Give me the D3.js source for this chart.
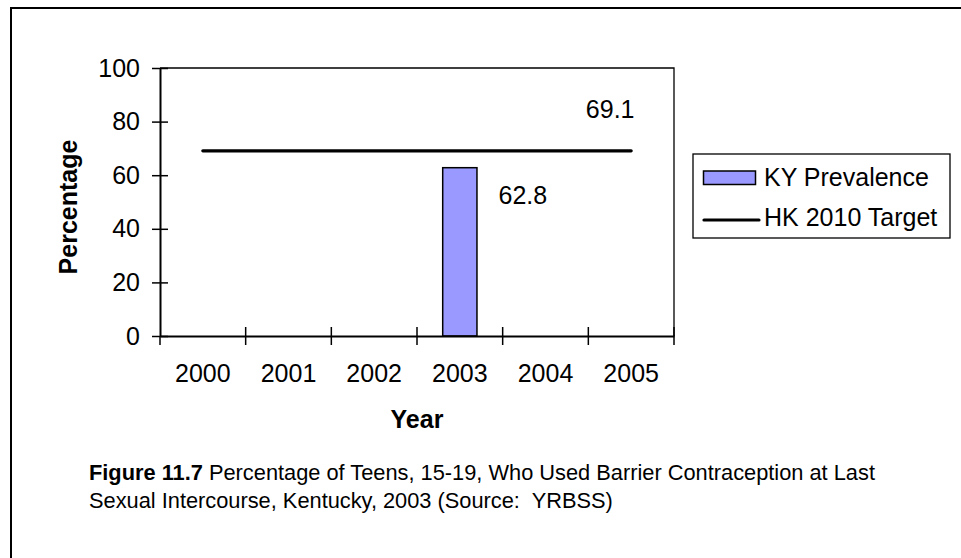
<!DOCTYPE html>
<html>
<head>
<meta charset="utf-8">
<script src="https://cdn.jsdelivr.net/npm/d3@7/dist/d3.min.js"></script>
<style>
  html, body { margin: 0; padding: 0; background: #fff; }
  svg { display: block; font-family: Arial, "Liberation Sans", sans-serif; }
</style>
</head>
<body>
<svg id="chart" width="961" height="558"></svg>
<script>
const years = ["2000", "2001", "2002", "2003", "2004", "2005"];
const kyPrevalence = [null, null, null, 62.8, null, null];
const hkTarget = [69.1, 69.1, 69.1, 69.1, 69.1, 69.1];
const yTicks = [0, 20, 40, 60, 80, 100];
const seriesNames = ["KY Prevalence", "HK 2010 Target"];

const svg = d3.select("#chart");
const W = 961, H = 558;
const plot = { left: 160, right: 674, top: 68, bottom: 336 };

// outer frame (left and top edges visible)
svg.append("path")
  .attr("d", `M11,${H} L11,8 L${W},8`)
  .attr("fill", "none").attr("stroke", "#000").attr("stroke-width", 2);

const x = d3.scaleBand().domain(years).range([plot.left, plot.right])
  .paddingInner(0.6).paddingOuter(0.3);
const xStep = d3.scaleLinear().domain([0, years.length]).range([plot.left, plot.right]);
const y = d3.scaleLinear().domain([0, 100]).range([plot.bottom, plot.top]);

// plot frame top and right
svg.append("path")
  .attr("d", `M${plot.left},${plot.top} L${plot.right},${plot.top} L${plot.right},${plot.bottom}`)
  .attr("fill", "none").attr("stroke", "#000").attr("stroke-width", 1.3);

// bars
const barData = years.map((yr, i) => ({ yr, v: kyPrevalence[i] })).filter(d => d.v != null);
svg.append("g").selectAll("rect").data(barData).join("rect")
  .attr("x", d => x(d.yr))
  .attr("y", d => y(d.v))
  .attr("width", x.bandwidth())
  .attr("height", d => y(0) - y(d.v))
  .attr("fill", "#9999FF").attr("stroke", "#000").attr("stroke-width", 1.5);

// target line
const lineData = years.map((yr, i) => ({ yr, v: hkTarget[i] }));
svg.append("path").datum(lineData)
  .attr("d", d3.line().x(d => x(d.yr) + x.bandwidth() / 2).y(d => y(d.v)))
  .attr("fill", "none").attr("stroke", "#000").attr("stroke-width", 3.2)
  .attr("stroke-linecap", "round");

// y axis
const yAxis = svg.append("g").attr("transform", `translate(${plot.left},0)`)
  .call(d3.axisLeft(y).tickValues(yTicks).tickSize(8).tickPadding(12).tickSizeOuter(0));
yAxis.select(".domain").attr("stroke-width", 2);
yAxis.selectAll(".tick line").attr("x1", 8).attr("stroke-width", 1.5);
yAxis.selectAll(".tick text").attr("font-size", 25).attr("fill", "#000")
  .style("font-family", 'Arial, "Liberation Sans", sans-serif');

// x axis
const xAxis = svg.append("g").attr("transform", `translate(0,${plot.bottom})`)
  .call(d3.axisBottom(x).tickSize(0).tickPadding(28).tickSizeOuter(0));
xAxis.select(".domain").attr("stroke-width", 2);
xAxis.selectAll(".tick text").attr("font-size", 25).attr("fill", "#000")
  .style("font-family", 'Arial, "Liberation Sans", sans-serif');
xAxis.selectAll(".bound").data(d3.range(years.length + 1)).join("line")
  .attr("class", "bound")
  .attr("x1", d => xStep(d)).attr("x2", d => xStep(d))
  .attr("y1", d => (d === 0 ? 0 : -9)).attr("y2", 9)
  .attr("stroke", "#000").attr("stroke-width", 1.5);

// data labels
svg.append("g").selectAll("text").data(barData).join("text")
  .attr("x", d => x(d.yr) + x.bandwidth() / 2 + 63)
  .attr("y", d => y(d.v) + 36)
  .attr("text-anchor", "middle").attr("font-size", 25)
  .text(d => d.v.toFixed(1));
const last = lineData[lineData.length - 1];
svg.append("text")
  .attr("x", x(last.yr) + x.bandwidth() / 2 - 21)
  .attr("y", y(last.v) - 33)
  .attr("text-anchor", "middle").attr("font-size", 25)
  .text(last.v.toFixed(1));

// axis titles
svg.append("text")
  .attr("x", (plot.left + plot.right) / 2).attr("y", 428)
  .attr("text-anchor", "middle").attr("font-size", 25).attr("font-weight", "bold")
  .text("Year");
svg.append("text")
  .attr("transform", "translate(77,207) rotate(-90)")
  .attr("text-anchor", "middle").attr("font-size", 25).attr("font-weight", "bold")
  .text("Percentage");

// legend
const lg = svg.append("g");
lg.append("rect").attr("x", 693).attr("y", 154).attr("width", 257).attr("height", 84)
  .attr("fill", "#fff").attr("stroke", "#000").attr("stroke-width", 1.3);
lg.append("rect").attr("x", 703.5).attr("y", 171).attr("width", 52).attr("height", 13.5)
  .attr("fill", "#9999FF").attr("stroke", "#000").attr("stroke-width", 1.5);
lg.append("line").attr("x1", 704).attr("x2", 759).attr("y1", 220).attr("y2", 220)
  .attr("stroke", "#000").attr("stroke-width", 3.2).attr("stroke-linecap", "round");
lg.selectAll("text.lbl").data(seriesNames).join("text").attr("class", "lbl")
  .attr("x", 764).attr("y", (d, i) => 186 + i * 40)
  .attr("font-size", 25).text(d => d);

// caption
const cap = svg.append("g").attr("font-size", 21.8);
const t1 = cap.append("text").attr("x", 89).attr("y", 480);
t1.append("tspan").attr("font-weight", "bold").text("Figure 11.7");
t1.append("tspan").text(" Percentage of Teens, 15-19, Who Used Barrier Contraception at Last");
cap.append("text").attr("x", 89).attr("y", 507.5)
  .style("white-space", "pre")
  .text("Sexual Intercourse, Kentucky, 2003 (Source:  YRBSS)");
</script>
</body>
</html>
